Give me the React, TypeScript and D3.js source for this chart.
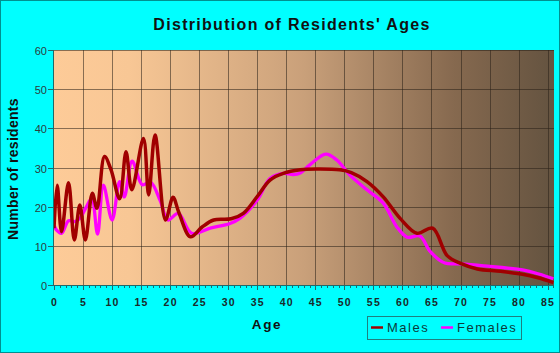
import React, { useRef, useEffect } from "react";
import * as d3 from "d3";

// knots (age, residents)
const maleAges = [0, 0.55, 1.3, 2.5, 3.5, 4.45, 5.4, 6.6, 7.4, 8.7, 9.8, 11.3, 12.4, 13.4, 15.4, 16.3, 17.4, 19.2, 20.5, 21.5, 23.5, 25.5, 27.5, 30.5, 32.6, 35, 37.2, 39.5, 42.4, 45.2, 49.2, 51.2, 53.9, 56.7, 59.6, 62.5, 65.2, 67.7, 70, 72.9, 76.9, 80.9, 83.2, 86];
const males = [14.5, 25.5, 13.6, 26.1, 11.5, 20.4, 11.5, 23.4, 19.6, 32.8, 29.5, 22, 34, 24.3, 37.4, 23, 38.3, 16.6, 22.4, 18.5, 12.3, 14.8, 16.6, 16.9, 18.3, 22.6, 26.8, 28.5, 29.4, 29.6, 29.4, 28.7, 26.4, 22.5, 17, 13.2, 14.5, 7.5, 5.5, 4.1, 3.5, 2.7, 1.9, 0.6];

const femaleAges = [0, 0.45, 1.3, 2.5, 3.6, 4.45, 5.6, 6.5, 7.5, 8.5, 10, 11.3, 12.1, 13.45, 15.2, 16.6, 18.3, 19.6, 21.4, 23.7, 26.9, 30.3, 32, 35, 37.2, 39.5, 41.2, 42.4, 44, 46.8, 48.7, 51, 53.9, 56.7, 59, 60.8, 63, 64.8, 67.3, 70, 74, 80.9, 83.5, 86];
const females = [15.3, 14, 13.2, 16.4, 16.2, 17, 20, 22.1, 13, 25.5, 16.6, 26.4, 22.5, 31.6, 25.6, 26.3, 21.5, 16.6, 18.3, 13.2, 14.5, 15.7, 17, 21.7, 27.2, 28.5, 28.2, 28.6, 30.6, 33.4, 31.9, 28, 24.3, 20.9, 14.9, 12.2, 12.5, 8.5, 5.6, 5.4, 4.9, 3.8, 2.8, 1.6];

const xTicks = d3.range(0, 86, 5);
const yTicks = [0, 10, 20, 30, 40, 50, 60];
const seriesNames = ["Males", "Females"];
const seriesColors = ["#a00000", "#ff00ff"];

export default function App() {
    const svgRef = useRef<SVGSVGElement>(null);

    useEffect(() => {
        if (!svgRef.current) return;
        const svg = d3.select(svgRef.current);
        svg.selectAll("*").remove();

        const W = 560, H = 353;
        const left = 54, right = 554, top = 50, bottom = 285;
        const font = "Liberation Sans, Arial, sans-serif";

        const x = d3.scaleLinear().domain([0, 86.1]).range([left, right]);
        const y = d3.scaleLinear().domain([0, 60]).range([bottom, top]);

        // page background + outer frame
        svg.append("rect").attr("width", W).attr("height", H).attr("fill", "#00ffff");
        svg.append("rect")
            .attr("x", 0.5).attr("y", 0.5)
            .attr("width", W - 1).attr("height", H - 1)
            .attr("fill", "none")
            .attr("stroke", "#009090");

        // plot gradient
        const defs = svg.append("defs");
        const grad = defs.append("linearGradient")
            .attr("id", "plotBg")
            .attr("x1", "0%").attr("y1", "0%")
            .attr("x2", "100%").attr("y2", "0%");
        [["0%", "#fdcb98"], ["15%", "#f8c795"], ["50%", "#c9a07a"], ["80%", "#86694f"], ["100%", "#645340"]]
            .forEach(([o, c]) => grad.append("stop").attr("offset", o).attr("stop-color", c));

        defs.append("clipPath").attr("id", "plotClip")
            .append("rect")
            .attr("x", left).attr("y", top)
            .attr("width", right - left).attr("height", bottom - top);

        svg.append("rect")
            .attr("x", left).attr("y", top)
            .attr("width", right - left).attr("height", bottom - top)
            .attr("fill", "url(#plotBg)");

        // grid
        const grid = svg.append("g")
            .attr("stroke", "#2a2018")
            .attr("stroke-opacity", 0.55)
            .attr("stroke-width", 1);
        xTicks.filter(d => d > 0).forEach(d => {
            grid.append("line")
                .attr("x1", Math.round(x(d)) + 0.5).attr("x2", Math.round(x(d)) + 0.5)
                .attr("y1", top).attr("y2", bottom);
        });
        yTicks.forEach(d => {
            grid.append("line")
                .attr("x1", left).attr("x2", right)
                .attr("y1", Math.round(y(d)) + 0.5).attr("y2", Math.round(y(d)) + 0.5);
        });

        // lines
        const plot = svg.append("g").attr("clip-path", "url(#plotClip)");
        const line = d3.line<[number, number]>()
            .x(d => x(d[0]))
            .y(d => y(d[1]))
            .curve(d3.curveCatmullRom.alpha(0.5));

        const femalePts = femaleAges.map((a, i) => [a, females[i]] as [number, number]);
        const malePts = maleAges.map((a, i) => [a, males[i]] as [number, number]);

        plot.append("path")
            .datum(femalePts)
            .attr("fill", "none")
            .attr("stroke", seriesColors[1])
            .attr("stroke-width", 3.3)
            .attr("stroke-linejoin", "round")
            .attr("d", line);
        plot.append("path")
            .datum(malePts)
            .attr("fill", "none")
            .attr("stroke", seriesColors[0])
            .attr("stroke-width", 3.5)
            .attr("stroke-linejoin", "round")
            .attr("d", line);

        // axes
        const axisColor = "#1f6a6a";
        svg.append("line")
            .attr("x1", left - 0.5).attr("x2", left - 0.5)
            .attr("y1", top).attr("y2", bottom + 1)
            .attr("stroke", axisColor);
        svg.append("line")
            .attr("x1", left).attr("x2", right)
            .attr("y1", bottom + 0.5).attr("y2", bottom + 0.5)
            .attr("stroke", axisColor);

        yTicks.forEach(d => {
            const yy = Math.round(y(d)) + 0.5;
            svg.append("line")
                .attr("x1", left - 6).attr("x2", left)
                .attr("y1", yy).attr("y2", yy)
                .attr("stroke", axisColor);
            svg.append("text")
                .attr("x", left - 7).attr("y", yy + 4)
                .attr("text-anchor", "end")
                .attr("font-family", font)
                .attr("font-size", 11)
                .attr("fill", "#2c3c3c")
                .text(d);
        });

        d3.range(0, 87).forEach(d => {
            const xx = Math.round(x(d)) + 0.5;
            svg.append("line")
                .attr("x1", xx).attr("x2", xx)
                .attr("y1", bottom).attr("y2", bottom + (d % 5 === 0 ? 5 : 3))
                .attr("stroke", axisColor);
        });
        xTicks.forEach(d => {
            svg.append("text")
                .attr("x", x(d) + 0.5).attr("y", 306)
                .attr("text-anchor", "middle")
                .attr("font-family", font)
                .attr("font-size", 10.5)
                .attr("font-weight", "bold")
                .attr("letter-spacing", 1.2)
                .attr("fill", "#1a2a2a")
                .text(d);
        });

        // titles
        svg.append("text")
            .attr("x", 292).attr("y", 30)
            .attr("text-anchor", "middle")
            .attr("font-family", font)
            .attr("font-size", 16)
            .attr("font-weight", "bold")
            .attr("letter-spacing", 1.3)
            .attr("fill", "#111")
            .text("Distribution of Residents' Ages");

        svg.append("text")
            .attr("x", 267).attr("y", 329)
            .attr("text-anchor", "middle")
            .attr("font-family", font)
            .attr("font-size", 13.5)
            .attr("font-weight", "bold")
            .attr("letter-spacing", 1.6)
            .attr("fill", "#111")
            .text("Age");

        svg.append("text")
            .attr("transform", "translate(18,169) rotate(-90)")
            .attr("text-anchor", "middle")
            .attr("font-family", font)
            .attr("font-size", 14)
            .attr("font-weight", "bold")
            .attr("letter-spacing", 0.3)
            .attr("fill", "#111")
            .text("Number of residents");

        // legend
        const lg = svg.append("g");
        lg.append("rect")
            .attr("x", 367.5).attr("y", 316.5)
            .attr("width", 154).attr("height", 23)
            .attr("fill", "none")
            .attr("stroke", "#1f7f7f");
        const legendX = [371, 441];
        seriesNames.forEach((name, i) => {
            lg.append("line")
                .attr("x1", legendX[i]).attr("x2", legendX[i] + 12)
                .attr("y1", 327.5).attr("y2", 327.5)
                .attr("stroke", seriesColors[i])
                .attr("stroke-width", 2.5);
            lg.append("text")
                .attr("x", legendX[i] + 16).attr("y", 332)
                .attr("font-family", font)
                .attr("font-size", 13)
                .attr("letter-spacing", 1.5)
                .attr("fill", "#0b3b3b")
                .text(name);
        });
    }, []);

    return (
        <div style={{ position: "absolute", left: 0, top: 0 }}>
            <svg ref={svgRef} width={560} height={353} />
        </div>
    );
}
